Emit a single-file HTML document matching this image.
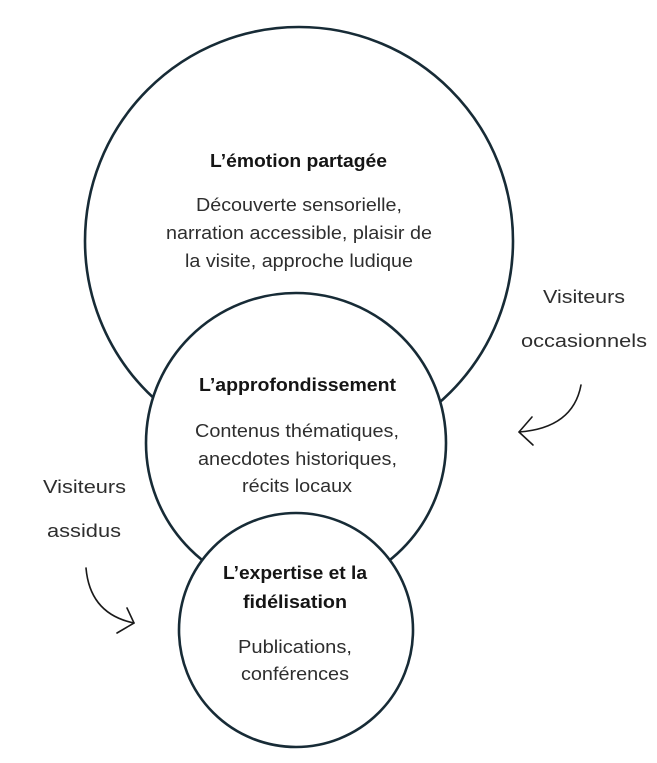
<!DOCTYPE html>
<html>
<head>
<meta charset="utf-8">
<style>
  html, body { margin:0; padding:0; background:#ffffff; }
  body { width:657px; height:763px; overflow:hidden; }
  svg { display:block; }
  .b { font-family:"Liberation Sans", sans-serif; font-weight:bold; font-size:18.5px; fill:#151515; }
  .r { font-family:"Liberation Sans", sans-serif; font-size:18px; fill:#2e2e2e; }
</style>
</head>
<body>
<svg width="657" height="763" viewBox="0 0 657 763" xmlns="http://www.w3.org/2000/svg">
  <!-- circles -->
  <circle cx="299" cy="241" r="214" fill="#ffffff" stroke="#172b36" stroke-width="2.6"/>
  <circle cx="296" cy="443" r="150" fill="#ffffff" stroke="#172b36" stroke-width="2.6"/>
  <circle cx="296" cy="630" r="117" fill="#ffffff" stroke="#172b36" stroke-width="2.6"/>

  <!-- big circle text -->
  <text class="b" x="210" y="167" textLength="177" lengthAdjust="spacingAndGlyphs">L’émotion partagée</text>
  <text class="r" x="196" y="211" textLength="206" lengthAdjust="spacingAndGlyphs">Découverte sensorielle,</text>
  <text class="r" x="166" y="239" textLength="266" lengthAdjust="spacingAndGlyphs">narration accessible, plaisir de</text>
  <text class="r" x="185" y="267" textLength="228" lengthAdjust="spacingAndGlyphs">la visite, approche ludique</text>

  <!-- middle circle text -->
  <text class="b" x="199" y="391" textLength="197" lengthAdjust="spacingAndGlyphs">L’approfondissement</text>
  <text class="r" x="195" y="437" textLength="204" lengthAdjust="spacingAndGlyphs">Contenus thématiques,</text>
  <text class="r" x="198" y="465" textLength="199" lengthAdjust="spacingAndGlyphs">anecdotes historiques,</text>
  <text class="r" x="242" y="492" textLength="110" lengthAdjust="spacingAndGlyphs">récits locaux</text>

  <!-- small circle text -->
  <text class="b" x="223" y="579" textLength="144" lengthAdjust="spacingAndGlyphs">L’expertise et la</text>
  <text class="b" x="243" y="608" textLength="104" lengthAdjust="spacingAndGlyphs">fidélisation</text>
  <text class="r" x="238" y="653" textLength="114" lengthAdjust="spacingAndGlyphs">Publications,</text>
  <text class="r" x="241" y="680" textLength="108" lengthAdjust="spacingAndGlyphs">conférences</text>

  <!-- right label -->
  <text class="r" x="543" y="303" textLength="82" lengthAdjust="spacingAndGlyphs">Visiteurs</text>
  <text class="r" x="521" y="347" textLength="126" lengthAdjust="spacingAndGlyphs">occasionnels</text>

  <!-- left label -->
  <text class="r" x="43" y="493" textLength="83" lengthAdjust="spacingAndGlyphs">Visiteurs</text>
  <text class="r" x="47" y="537" textLength="74" lengthAdjust="spacingAndGlyphs">assidus</text>

  <!-- right arrow -->
  <path d="M581,385 Q573,428 519,432" fill="none" stroke="#1a1a1a" stroke-width="1.6" stroke-linecap="round"/>
  <path d="M532,417 L519,432 L533,445" fill="none" stroke="#1a1a1a" stroke-width="1.6" stroke-linecap="round" stroke-linejoin="round"/>

  <!-- left arrow -->
  <path d="M86,568 Q90,614 134,623" fill="none" stroke="#1a1a1a" stroke-width="1.6" stroke-linecap="round"/>
  <path d="M127,608 L134,623 L117,633" fill="none" stroke="#1a1a1a" stroke-width="1.6" stroke-linecap="round" stroke-linejoin="round"/>
</svg>
</body>
</html>
